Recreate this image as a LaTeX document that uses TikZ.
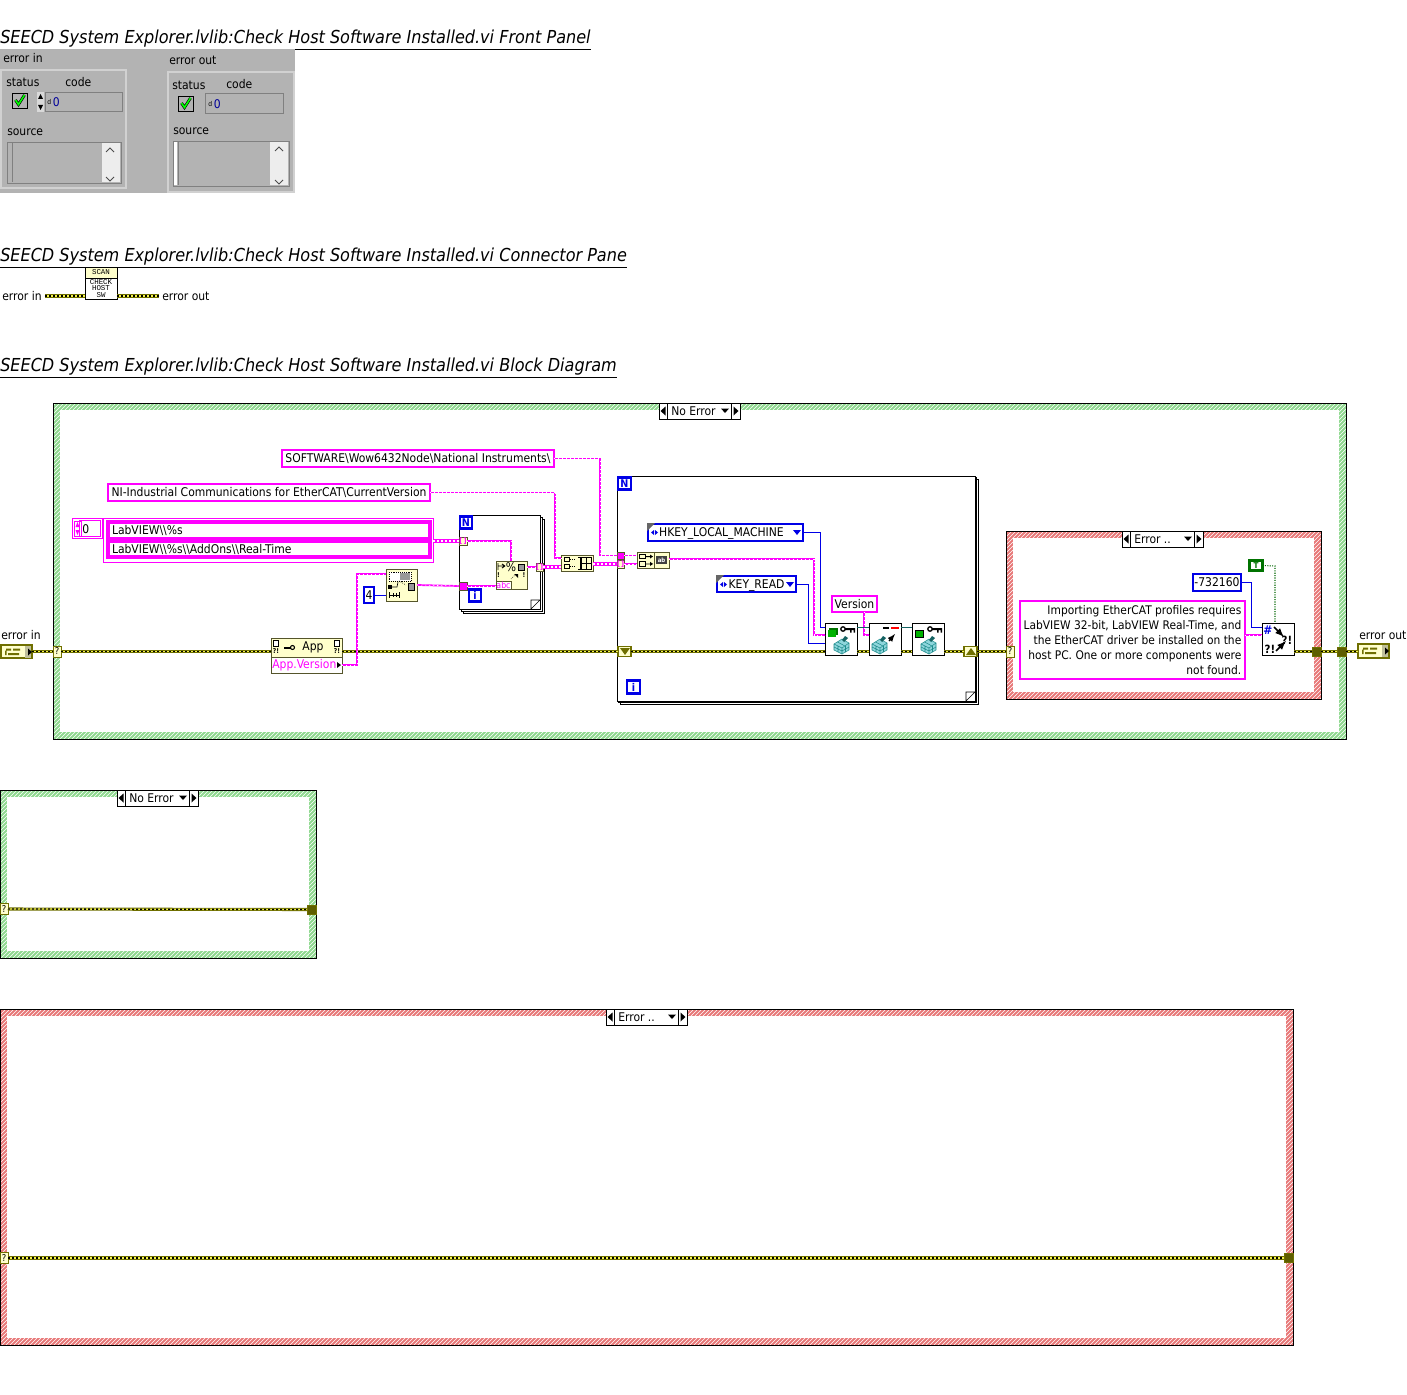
\documentclass[tikz,border=0pt]{standalone}
\usepackage{fontspec}
\setmainfont{DejaVu Sans Condensed}
\setmonofont{Liberation Mono}
\usetikzlibrary{patterns,positioning}
\definecolor{wirepink}{HTML}{FF00FF}
\definecolor{wireblue}{HTML}{0000E6}
\definecolor{wireolive}{HTML}{6F6F00}
\definecolor{wireyellow}{HTML}{F4F44C}
\definecolor{icoyellow}{HTML}{FFFFCC}
\definecolor{icoborder}{HTML}{55552B}
\definecolor{panelgrey}{HTML}{B3B3B3}
\definecolor{framegreen}{HTML}{8FD88F}
\definecolor{framered}{HTML}{E87878}
\definecolor{keyteal}{HTML}{1E8C8C}
\definecolor{keypale}{HTML}{8FD6DC}
\tikzset{
  wh/.style 2 args={minimum width=#1*0.75pt,minimum height=#2*0.75pt},
  plainbox/.style={anchor=north west,inner sep=0pt,outer sep=0pt},
  bodytext/.style={font=\fontsize{9}{11}\selectfont,text=black,inner sep=0pt},
  title/.style={anchor=west,inner sep=0pt,font=\fontsize{13.4}{16}\selectfont\itshape},
  casegreen/.style={plainbox,draw=black,line width=0.7pt,preaction={fill=framegreen},preaction={pattern={north east lines},pattern color=white}},
  casered/.style={plainbox,draw=black,line width=0.7pt,preaction={fill=framered},preaction={pattern={north east lines},pattern color=white}},
  caseinner/.style={plainbox,fill=white},
  loopframe/.style={plainbox,draw=black,line width=0.6pt,fill=white},
  msgconst/.style={plainbox,bodytext,draw=wirepink,line width=2.2pt,fill=white},
  strconst/.style={msgconst,text height=8pt,text depth=1.6pt},
  enumconst/.style={plainbox,bodytext,draw=wireblue,line width=1.5pt,fill=white,text height=8pt,text depth=1.6pt},
  loopterm/.style={plainbox,draw=wireblue,line width=1.6pt,fill=white,font=\fontsize{8}{8}\selectfont\bfseries,text=wireblue},
  tunnel/.style={plainbox,draw=icoborder,line width=0.6pt,fill=icoyellow,font=\fontsize{5.5}{5.5}\selectfont\bfseries,text=wirepink},
  pinktunnel/.style={plainbox,draw=icoborder,line width=0.5pt,fill=wirepink},
  errtunnel/.style={plainbox,draw=wireolive,fill=wireolive!85!black,line width=0.6pt},
  shiftreg/.style={plainbox,draw=wireolive,line width=1.4pt,fill=icoyellow},
  qterm/.style={plainbox,draw=wireolive,line width=0.7pt,fill=icoyellow,font=\fontsize{7}{7}\selectfont,text=black},
  icon/.style={plainbox,draw=icoborder,line width=0.65pt,fill=icoyellow},
  whiteicon/.style={plainbox,draw=black,line width=0.7pt,fill=white},
  termbox/.style={plainbox,draw=wireolive,line width=1.1pt,fill=icoyellow},
  clusterbox/.style={plainbox,draw=black!55,double=white!82!black,double distance=0.8pt,line width=0.6pt},
  sunken/.style={plainbox,draw=black!50,line width=0.7pt,fill=panelgrey},
  strwire/.style={draw=wirepink,line width=1.3pt,postaction={draw=white,line width=0.4pt,dash pattern=on 1.1pt off 1.9pt}},
  arrwire/.style={draw=wirepink,line width=2.6pt,postaction={draw=white,line width=0.9pt,dash pattern=on 1.6pt off 1.4pt}},
  errwire/.style={draw=wireolive,line width=2.3pt,postaction={draw=wireyellow,line width=1pt},postaction={draw=black,line width=1pt,dash pattern=on 1.5pt off 1.5pt}},
  numwire/.style={draw=wireblue,line width=0.7pt},
  refwire/.style={draw=keyteal!70!black,line width=0.7pt},
  boolwire/.style={draw=green!40!black,line width=0.8pt,densely dotted},
  selcase/.pic={
    \draw[black,line width=0.6pt,fill=white] (0,0) rectangle (81,16);
    \draw[black,line width=0.6pt] (8,0) -- (8,16) (72,0) -- (72,16);
    \fill[black] (1.5,8) -- (6.5,3.5) -- (6.5,12.5) -- cycle;
    \fill[black] (79.5,8) -- (74.5,3.5) -- (74.5,12.5) -- cycle;
    \fill[black] (62,5.5) -- (70,5.5) -- (66,10) -- cycle;
    \node[bodytext,anchor=west] at (12,8) {#1};
  },
  regcube/.pic={
    \fill[keypale,draw=keyteal,line width=0.4pt] (0,5) -- (8,0) -- (15,4) -- (15,11) -- (8,15) -- (0,11) -- cycle;
    \draw[keyteal,line width=0.4pt] (0,5) -- (8,9) -- (15,4) (8,9) -- (8,15) (3.5,3) -- (11,7) (4,7) -- (4,13) (11.5,7) -- (11.5,13) (0,8) -- (8,12) -- (15,8);
    \fill[keyteal!70!black] (11,-3) -- (14,-1) -- (10,3) -- (8,1) -- cycle;
  },
  regkey/.pic={
    \draw[black,line width=0.7pt,fill=white] (0,0) rectangle (32,32);
    \draw[black,line width=1pt] (18,6) circle (2.2);
    \fill[black] (20,5) rectangle (30,7) (25,7) rectangle (26.5,9.5) (28.5,7) rectangle (30,9.5);
    \path (9,16) pic {regcube};
  },
  errterm/.pic={
    \fill[black!25!icoyellow] (24,1) rectangle (30,13);
    \fill[wireolive] (5,3.5) rectangle (10,5.5) (12,3.5) rectangle (19,5.5) (7,8) rectangle (18,10) (4,5.5) rectangle (5.5,10);
    \fill[black] (27,3.5) -- (31,7) -- (27,10.5) -- cycle;
  }
}
\begin{document}
\begin{tikzpicture}[x=0.75pt,y=-0.75pt]
\useasboundingbox (0,0) rectangle (1407,1395);
% titles
\node[title] (n_titlefp) at (0,40) {\underline{SEECD System Explorer.lvlib:Check Host Software Installed.vi Front Panel}};
\node[title] (n_titlecp) at (0,258) {\underline{SEECD System Explorer.lvlib:Check Host Software Installed.vi Connector Pane}};
\node[title] (n_titlebd) at (0,368) {\underline{SEECD System Explorer.lvlib:Check Host Software Installed.vi Block Diagram}};
% front panel
\node[plainbox,fill=panelgrey,wh={295}{144}] (n_panel) at (0,49) {};
\node[clusterbox,wh={125}{118}] (n_clin) at (1,70) {};
\node[clusterbox,wh={126}{120}] (n_clout) at (168,72) {};
\node[bodytext,anchor=west] (n_lblin) at (3,58) {error in};
\node[bodytext,anchor=west] (n_lblout) at (169,60) {error out};
\node[bodytext,anchor=west] (n_statin) at (6,82) {status};
\node[bodytext,anchor=west] (n_codein) at (65,82) {code};
\node[bodytext,anchor=west] (n_statout) at (172,85) {status};
\node[bodytext,anchor=west] (n_codeout) at (226,84) {code};
\node[plainbox,draw=black,line width=0.6pt,fill=panelgrey,wh={15}{15}] (n_chkin) at (12,93) {};
\node[plainbox,draw=black,line width=0.6pt,fill=panelgrey,wh={15}{15}] (n_chkout) at (178,96) {};
\draw[black,line width=2.1pt] (15.5,100) -- (18.5,104.5) -- (24.5,95);
\draw[green,line width=1.2pt] (15.5,100) -- (18.5,104.5) -- (24.5,95);
\draw[black,line width=2.1pt] (181.5,103) -- (184.5,107.5) -- (190.5,98);
\draw[green,line width=1.2pt] (181.5,103) -- (184.5,107.5) -- (190.5,98);
\node[sunken,wh={77}{19}] (n_numin) at (45,92) {};
\node[sunken,wh={78}{20}] (n_numout) at (205,93) {};
\node[plainbox,fill=white!85!black,wh={7}{20}] (n_spinin) at (37,92) {};
\fill[black] (40.5,94) -- (38,99) -- (43,99) -- cycle (40.5,110) -- (38,105) -- (43,105) -- cycle;
\node[bodytext,anchor=west,font=\fontsize{5}{5}\selectfont] (n_dispin) at (47,102) {d};
\node[bodytext,anchor=west,text=blue!60!black] (n_zeroin) at (52.5,102) {0};
\node[bodytext,anchor=west,font=\fontsize{5}{5}\selectfont] (n_dispout) at (208,104) {d};
\node[bodytext,anchor=west,text=blue!60!black] (n_zeroout) at (213.5,104) {0};
\node[bodytext,anchor=west] (n_srcin) at (7,132) {source};
\node[bodytext,anchor=west] (n_srcout) at (173,131) {source};
\node[sunken,wh={114}{41}] (n_boxin) at (7,142) {};
\node[sunken,wh={116}{45}] (n_boxout) at (173,141) {};
\node[plainbox,fill=white,wh={3}{43}] (n_stripout) at (174,142) {};
\draw[black!50,line width=0.6pt] (12,143) -- (12,182) (178,142) -- (178,185);
\node[plainbox,fill=white!93!black,wh={18}{39}] (n_scrollin) at (102,143) {};
\node[plainbox,fill=white!93!black,wh={18}{43}] (n_scrollout) at (270,142) {};
\draw[black!70,line width=0.7pt] (106,152) -- (110,148) -- (114,152) (106,177) -- (110,181) -- (114,177);
\draw[black!70,line width=0.7pt] (275,151) -- (279,147) -- (283,151) (275,180) -- (279,184) -- (283,180);
% connector pane
\node[whiteicon,wh={32}{32}] (n_cpicon) at (85,267) {};
\fill[icoyellow,draw=black,line width=0.6pt] (85,267) rectangle (117,278);
\node[inner sep=0pt,font=\fontsize{5.6}{5.6}\selectfont\ttfamily] (n_cpscan) at (101,272.5) {SCAN};
\node[inner sep=0pt,align=center,font=\fontsize{5.6}{5.2}\selectfont\ttfamily] (n_cpname) at (101,288.5) {CHECK\\HOST\\SW};
\node[bodytext,anchor=west] (n_cpin) at (2,296) {error in};
\node[bodytext,anchor=west] (n_cpout) at (162,296) {error out};
\draw[errwire] ([xshift=2.5pt]n_cpin.east) -- (n_cpicon.west|-n_cpin.east);
\draw[errwire] (n_cpicon.east|-n_cpout.west) -- ([xshift=-2.2pt]n_cpout.west);
% main case structure
\node[casegreen,wh={1293}{336}] (n_casemain) at (53,403) {};
\node[caseinner,wh={1279}{322}] (n_caseinner) at (60,410) {};
\pic at (659,403) {selcase={No Error}};
% big loop
\node[loopframe,wh={358}{225}] (n_loopb3) at (620,479) {};
\node[loopframe,wh={358}{225}] (n_loopb2) at (618.5,477.5) {};
\node[loopframe,wh={358}{225}] (n_loopb) at (617,476) {};
\draw[black,line width=0.5pt] (975,692) -- (966,701) -- (966,692) -- cycle;
% small loop
\node[loopframe,wh={81}{94}] (n_loopa3) at (463,519) {};
\node[loopframe,wh={81}{94}] (n_loopa2) at (461,517) {};
\node[loopframe,wh={81}{94}] (n_loopa) at (459,515) {};
\draw[black,line width=0.5pt] (540,600) -- (531,609) -- (531,600) -- cycle;
% error case
\node[casered,wh={315}{168}] (n_caseerr) at (1006,531) {};
\node[caseinner,wh={301}{154}] (n_caseerrin) at (1013,538) {};
\pic at (1122,531) {selcase={Error ..}};
% constants
\node[strconst,wh={272}{17}] (n_software) at (282,450) {SOFTWARE\textbackslash Wow6432Node\textbackslash National Instruments\textbackslash};
\node[strconst,wh={322}{17}] (n_nisw) at (108,484) {NI-Industrial Communications for EtherCAT\textbackslash CurrentVersion};
\node[plainbox,draw=wirepink,line width=0.6pt,wh={30}{20}] (n_idx) at (72,518.5) {};
\node[plainbox,draw=wirepink,line width=0.6pt,fill=white,wh={21}{16}] (n_idxval) at (79,520.5) {};
\node[bodytext,anchor=west] (n_idxtxt) at (82,529) {0};
\draw[wirepink,line width=0.6pt] (74,521) rectangle (81,536);
\fill[wirepink] (77.5,522) -- (75.5,527) -- (79.5,527) -- cycle (77.5,535) -- (75.5,530) -- (79.5,530) -- cycle;
\node[plainbox,draw=wirepink,line width=0.6pt,wh={330}{44}] (n_arr) at (103,518) {};
\node[strconst,line width=2.8pt,wh={322}{17},text width=314*0.75pt,align=left] (n_arr1) at (108,522) {LabVIEW\textbackslash\textbackslash\%s};
\node[strconst,line width=2.8pt,wh={322}{16},text width=314*0.75pt,align=left] (n_arr2) at (108,541) {LabVIEW\textbackslash\textbackslash\%s\textbackslash\textbackslash AddOns\textbackslash\textbackslash Real-Time};
\node[enumconst,wh={10}{16}] (n_four) at (364,587) {4};
\node[enumconst,wh={155}{17},text width=150*0.75pt,align=left] (n_hkey) at (648,524) {\hspace{6.5pt}HKEY\_LOCAL\_MACHINE};
\node[enumconst,wh={79}{16},text width=75*0.75pt,align=left] (n_keyread) at (717,576) {\hspace{7.2pt}KEY\_READ};
\fill[black!60] (647,523) -- (655,523) -- (647,531) -- cycle;
\fill[black!60] (716,575) -- (724,575) -- (716,583) -- cycle;
\fill[wireblue] (793,530) -- (801,530) -- (797,535) -- cycle (786,582) -- (794,582) -- (790,587) -- cycle;
\fill[wireblue] (651,532.5) -- (654,530) -- (654,535) -- cycle (658,532.5) -- (655,530) -- (655,535) -- cycle;
\fill[wireblue] (720,584.5) -- (723,582) -- (723,587) -- cycle (727,584.5) -- (724,582) -- (724,587) -- cycle;
\node[strconst,wh={45}{16}] (n_version) at (832,596) {Version};
\node[msgconst,wh={225}{78},align=right,font=\fontsize{8.9}{11.3}\selectfont] (n_msg) at (1020,601) {Importing EtherCAT profiles requires\\LabVIEW 32-bit, LabVIEW Real-Time, and\\the EtherCAT driver be installed on the\\host PC. One or more components were\\not found.};
\node[enumconst,wh={48}{17}] (n_code) at (1193,574) {-732160};
\node[plainbox,draw=green!45!black,line width=1.6pt,fill=white,wh={13}{10},font=\fontsize{6}{6}\selectfont\bfseries,text=green!45!black] (n_true) at (1249.5,560.5) {T};
% loop terminals
\node[loopterm,wh={12}{12}] (n_Na) at (460,516.5) {N};
\node[loopterm,wh={12}{12}] (n_ia) at (469,589.5) {i};
\node[loopterm,wh={13}{12}] (n_Nb) at (618,477.5) {N};
\node[loopterm,wh={13}{13}] (n_ib) at (627,680.5) {i};
% tunnels
\node[tunnel,wh={8}{8}] (n_tarr) at (459,537) {[\,]};
\node[pinktunnel,wh={8}{8}] (n_tidx) at (459,582) {};
\node[tunnel,wh={7}{8}] (n_tout) at (536,563) {[\,]};
\node[pinktunnel,wh={7}{7}] (n_tsw) at (617,552) {};
\node[tunnel,wh={7}{8}] (n_tlist) at (617,560) {[\,]};
% block diagram icons
\node[termbox,wh={31}{13}] (n_errin) at (1,645) {};
\pic at (1,645) {errterm};
\node[bodytext,anchor=west] (n_lblerrin) at (1,635) {error in};
\node[qterm,wh={8}{11}] (n_qmain) at (53,646) {?};
\node[icon,wh={71}{35}] (n_prop) at (271,638) {};
\draw[icoborder,line width=0.65pt,fill=white] (271,657) rectangle (342,673);
\draw[black,line width=0.5pt,fill=white] (273,640) rectangle (278,646) (334,640) rectangle (339,646);
\node[inner sep=0pt,font=\fontsize{5}{5}\selectfont\bfseries] (n_propa) at (276,651.5) {?!};
\node[inner sep=0pt,font=\fontsize{5}{5}\selectfont\bfseries] (n_propb) at (337,651.5) {?!};
\fill[black] (284,646.5) rectangle (291,648.5);
\draw[black,line width=0.8pt] (292.5,647.5) circle (2);
\node[bodytext] (n_propapp) at (313,647) {App};
\node[bodytext,anchor=west,text=wirepink] (n_propver) at (272,665) {App.Version};
\fill[black] (341,665) -- (337,662) -- (337,668) -- cycle;
% subset icon
\node[icon,wh={31}{32}] (n_subset) at (386,569) {};
\draw[black,line width=0.4pt,fill=white,densely dotted] (389,572) rectangle (411,581);
\fill[black!40] (400,573) rectangle (410,580);
\fill[black] (388,585) rectangle (392,589);
\draw[black,line width=0.5pt] (392,587) -- (397,587) -- (398,582);
\draw[black,line width=0.5pt,densely dotted] (399,581) -- (406,585);
\draw[black,line width=0.6pt,fill=black!40] (408,583) rectangle (414,590);
\draw[black,line width=0.7pt] (389,592) -- (389,598) (399,592) -- (399,598) (389,595) -- (399,595) (393,593) -- (393,597) (396,593) -- (396,597);
% format icon
\node[icon,wh={31}{28}] (n_format) at (496,561) {};
\node[plainbox,draw=icoborder,line width=0.5pt,fill=white,wh={15}{8},font=\fontsize{6.5}{6.5}\selectfont,text=wirepink] (n_abc) at (496,581) {abc};
\node[inner sep=0pt,font=\fontsize{9}{9}\selectfont] (n_pct) at (511,567.5) {\%};
\draw[black,line width=0.5pt,fill=black!40] (518,564) rectangle (524,570);
\draw[black,line width=0.7pt] (498,563) -- (498,570) (498,566) -- (504,566) (505,566) -- (502,564) (505,566) -- (502,568);
\node[inner sep=0pt,font=\fontsize{5}{5}\selectfont\bfseries] (n_fma) at (498.5,575.5) {!};
\node[inner sep=0pt,font=\fontsize{5}{5}\selectfont\bfseries] (n_fmb) at (524,575.5) {!};
\draw[black,line width=0.5pt,densely dotted] (511,579) -- (516,574);
\fill[black] (518,574) -- (514,574) -- (518,578) -- cycle;
% build array icon
\node[icon,wh={32}{16}] (n_build) at (561,555) {};
\draw[black,line width=0.6pt] (564,557.5) rectangle (569,561.5) (564,564) rectangle (569,568);
\draw[black,line width=0.5pt,densely dotted] (570,559.5) -- (576,559.5) (570,566) -- (576,566);
\draw[black,line width=0.6pt] (578,557) -- (580,557) -- (580,569) -- (578,569);
\draw[black,line width=0.7pt] (581.5,557) rectangle (591,569) (581.5,563) -- (591,563) (586,557) -- (586,569);
% concat icon
\node[icon,wh={32}{16}] (n_concat) at (637,552) {};
\draw[black,line width=0.6pt] (639,554) rectangle (645,558.5) (639,561.5) rectangle (645,566);
\fill[black] (646,556.2) rectangle (650,557) (650,554.5) -- (653,556.6) -- (650,558.5) -- cycle (646,563.5) rectangle (650,564.3) (650,561.8) -- (653,563.9) -- (650,566) -- cycle;
\draw[icoborder,line width=0.6pt] (654,552) -- (654,568);
\fill[black!75] (656,556) rectangle (667,564);
\node[inner sep=0pt,font=\fontsize{4.5}{4.5}\selectfont\bfseries,text=white] (n_concattxt) at (661.5,560) {ab};
% registry icons
\node[plainbox,inner sep=0pt,wh={32}{32}] (n_open) at (825,623) {};
\node[plainbox,inner sep=0pt,wh={32}{32}] (n_read) at (869,623) {};
\node[plainbox,inner sep=0pt,wh={32}{32}] (n_close) at (912,623) {};
\pic at (825,623) {regkey};
\pic at (912,623) {regkey};
\fill[green!45!black] (829,628) rectangle (838,635);
\fill[green!70!black] (828,630) rectangle (836,637);
\fill[green!70!black,draw=black,line width=0.4pt] (915,630) rectangle (923,637);
\draw[black,line width=0.7pt,fill=white] (869,623) rectangle (901,655);
\fill[black] (883,626.5) rectangle (889,628.5);
\fill[red] (891,626.5) rectangle (899,628.5);
\draw[black,line width=1pt,-latex] (889,641) -- (895,634);
\pic at (872,639) {regcube};
% error icon and terminals
\node[whiteicon,wh={32}{32}] (n_errbuild) at (1262,623) {};
\node[inner sep=0pt,font=\fontsize{9}{9}\selectfont\bfseries,text=wireblue] (n_hash) at (1268,630) {\#};
\node[inner sep=0pt,font=\fontsize{8.5}{8.5}\selectfont\bfseries] (n_qa) at (1287,640) {?!};
\node[inner sep=0pt,font=\fontsize{8.5}{8.5}\selectfont\bfseries] (n_qb) at (1270,649) {?!};
\draw[black,line width=1.3pt,-latex] (1274,627) -- (1284,637);
\draw[black,line width=1.3pt,-latex] (1276,651) -- (1286,641);
\node[termbox,wh={31}{14}] (n_errout) at (1358,644) {};
\pic at (1358,644) {errterm};
\node[bodytext,anchor=west] (n_lblerrout) at (1359,635) {error out};
\node[shiftreg,wh={13}{10}] (n_srl) at (618,646.5) {};
\fill[wireolive] (620,648) -- (630,648) -- (625,655) -- cycle;
\node[shiftreg,wh={13}{10}] (n_srr) at (964,646.5) {};
\fill[wireolive] (966,655) -- (976,655) -- (971,648) -- cycle;
\node[qterm,wh={8}{11}] (n_qerr) at (1006,646) {?};
\node[errtunnel,wh={9}{9}] (n_terr) at (1312,647) {};
\node[errtunnel,wh={9}{9}] (n_tmain) at (1337,647) {};
% wires
\draw[errwire] (n_errin.east) -- (n_qmain.west);
\draw[errwire] (n_qmain.east) -- (n_prop.west|-n_qmain.east);
\draw[errwire] (n_prop.east|-n_qmain.east) -- (n_srl.west|-n_qmain.east);
\draw[errwire] (n_srl.east|-n_qmain.east) -- (n_open.west|-n_qmain.east);
\draw[errwire] (n_open.east|-n_qmain.east) -- (n_read.west|-n_qmain.east);
\draw[errwire] (n_read.east|-n_qmain.east) -- (n_close.west|-n_qmain.east);
\draw[errwire] (n_close.east|-n_qmain.east) -- (n_srr.west|-n_qmain.east);
\draw[errwire] (n_srr.east|-n_qmain.east) -- (n_qerr.west|-n_qmain.east);
\draw[errwire] (n_errbuild.east|-n_terr.west) -- (n_terr.west);
\draw[errwire] (n_terr.east) -- (n_tmain.west);
\draw[errwire] (n_tmain.east) -- (n_errout.west|-n_tmain.east);
\draw[strwire] (n_prop.east|-n_propver) -- (357,665) -- (357,574) -- (n_subset.west|-0,574);
\draw[numwire] (n_four.east|-0,595) -- (n_subset.west|-0,595);
\draw[strwire] (n_subset.east|-0,585) -- (n_tidx.west);
\draw[strwire] (n_tidx.east) -- (n_format.west|-n_tidx.east);
\draw[arrwire] (n_arr.east|-n_tarr.west) -- (n_tarr.west);
\draw[strwire] (n_tarr.east) -- (511,541) -- (511,561);
\draw[strwire] (n_format.east|-n_tout.west) -- (n_tout.west);
\draw[arrwire] (n_tout.east) -- (n_build.west|-n_tout.east);
\draw[strwire] (n_nisw.east) -- (555,492.5) -- (555,558) -- (n_build.west|-0,558);
\draw[strwire] (n_software.east) -- (600,458.5) -- (600,555.5) -- (n_tsw.west);
\draw[arrwire] (n_build.east|-n_tlist.west) -- (n_tlist.west);
\draw[strwire] (n_tsw.east) -- (n_concat.west|-n_tsw.east);
\draw[strwire] (n_tlist.east) -- (n_concat.west|-n_tlist.east);
\draw[strwire] (n_concat.east|-0,559) -- (814,559) -- (814,635) -- (n_open.west|-0,635);
\draw[numwire] (n_hkey.east) -- (820,532.5) -- (820,627) -- (n_open.west|-0,627);
\draw[numwire] (n_keyread.east) -- (808.5,584) -- (808.5,643) -- (n_open.west|-0,643);
\draw[strwire] (n_version.south-|864,0) -- (864,635) -- (n_read.west|-0,635);
\draw[refwire] (n_open.east|-0,627) -- (n_read.west|-0,627);
\draw[refwire] (n_read.east|-0,627) -- (n_close.west|-0,627);
\draw[numwire] (n_code.east) -- (1251,582.5) -- (1251,627) -- (n_errbuild.west|-0,627);
\draw[boolwire] (n_true.east) -- (1275,566) -- (1275,623);
\draw[strwire] (n_msg.east|-0,635) -- (n_errbuild.west|-0,635);
% no error case
\node[casegreen,wh={316}{168}] (n_casenoerr) at (0,790) {};
\node[caseinner,wh={302}{154}] (n_casenoerrin) at (7,797) {};
\pic at (117,790) {selcase={No Error}};
\node[qterm,wh={8}{11}] (n_qne) at (0,903.5) {?};
\node[errtunnel,wh={9}{9}] (n_tne) at (307,905) {};
\draw[errwire] (n_qne.east) -- (n_tne.west);
% error case
\node[casered,wh={1293}{336}] (n_caseef) at (0,1009) {};
\node[caseinner,wh={1279}{322}] (n_caseefin) at (7,1016) {};
\pic at (606,1009) {selcase={Error ..}};
\node[qterm,wh={8}{11}] (n_qef) at (0,1252.5) {?};
\node[errtunnel,wh={9}{9}] (n_tef) at (1284,1253.5) {};
\draw[errwire] (n_qef.east) -- (n_tef.west);
\end{tikzpicture}
\end{document}
